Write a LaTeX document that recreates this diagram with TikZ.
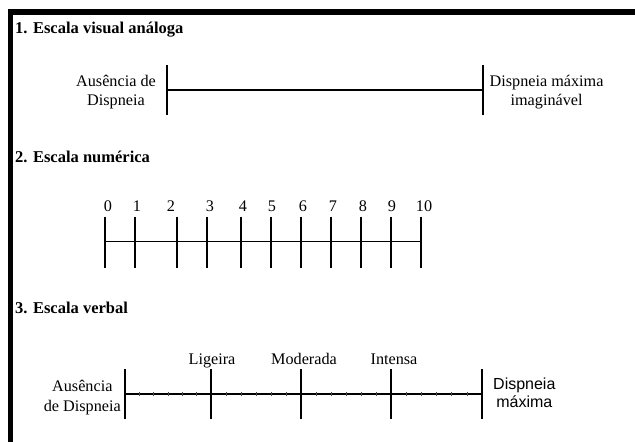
\documentclass[tikz,border=0pt]{standalone}
\usepackage{fontspec}
\setmainfont{Liberation Serif}
\newfontfamily\arialfont{Liberation Sans}
\usetikzlibrary{positioning, calc}

\begin{document}
\begin{tikzpicture}[x=1pt, y=-1pt, every node/.style={inner sep=0pt, font=\fontsize{16.2}{19}\selectfont},
    heading/.style={anchor=base west, font=\fontsize{16.5}{19}\selectfont\bfseries},
    tickline/.style={line width=2pt},
    scaleline/.style={line width=1.5pt},
    minortick/.style={line width=0.6pt, black!70}]
    \useasboundingbox (0,0) rectangle (635,442);
    % Frame
    \fill (8,9) rectangle (635,15);
    \fill (8,9) rectangle (13,442);

    % 1. Visual scale
    \node[heading] (H_VIS) at (15,33) {1. Escala visual análoga};
    \coordinate (V_L) at (166.7,90); \coordinate (V_R) at (482.7,90);
    \draw[scaleline] (V_L) -- (V_R);
    \draw[tickline] ([yshift=25pt]V_L) -- ([yshift=-25pt]V_L);
    \draw[tickline] ([yshift=25pt]V_R) -- ([yshift=-25pt]V_R);
    \node[align=center, anchor=east] (V_LOW) at (156,92.5) {Ausência de\\Dispneia};
    \node[align=center, anchor=west] (V_HIGH) at (489.5,92.5) {Dispneia máxima\\imaginável};

    % 2. Numeric scale
    \node[heading] (H_NUM) at (15,162) {2. Escala numérica};
    \foreach \x/\lx [count=\i from 0] in {105/108, 135/137, 176.7/171, 206.7/210, 241/243, 271/272,
                                          301/303, 331/333, 361/363, 391/392, 421/424} {
        \coordinate (N_\i) at (\x,241.5);
        \draw[tickline] (\x,216.5) -- (\x,268);
        \node[anchor=base] (N_LAB_\i) at (\lx,211.5) {\i};
    }
    \draw[scaleline] (N_0) -- (N_10);

    % 3. Verbal scale
    \node[heading] (H_VER) at (15,313) {3. Escala verbal};
    \coordinate (E_0) at (125,394); \coordinate (E_1) at (211,394); \coordinate (E_2) at (301,394);
    \coordinate (E_3) at (391,394); \coordinate (E_4) at (482,394);
    \draw[scaleline] (E_0) -- (E_4);
    \foreach \e in {0,...,4}
        \draw[tickline] ([yshift=25pt]E_\e) -- ([yshift=-25pt]E_\e);
    \foreach \a/\b in {0/1, 1/2, 2/3, 3/4}
        \foreach \k in {1,...,5}
            \draw[minortick] ($(E_\a)!\k/6!(E_\b)$) ++(0,-2) -- ++(0,4);
    \node[anchor=base] (E_LIG) at (212,364) {Ligeira};
    \node[anchor=base] (E_MOD) at (304,364) {Moderada};
    \node[anchor=base] (E_INT) at (394,364) {Intensa};
    \node[align=center, anchor=east, font=\fontsize{16.2}{20}\selectfont] (E_LOW) at (121,398) {Ausência\\de Dispneia};
    \node[align=center, anchor=west, font=\fontsize{16}{18}\arialfont] (E_HIGH) at (493,393) {Dispneia\\máxima};
\end{tikzpicture}
\end{document}
